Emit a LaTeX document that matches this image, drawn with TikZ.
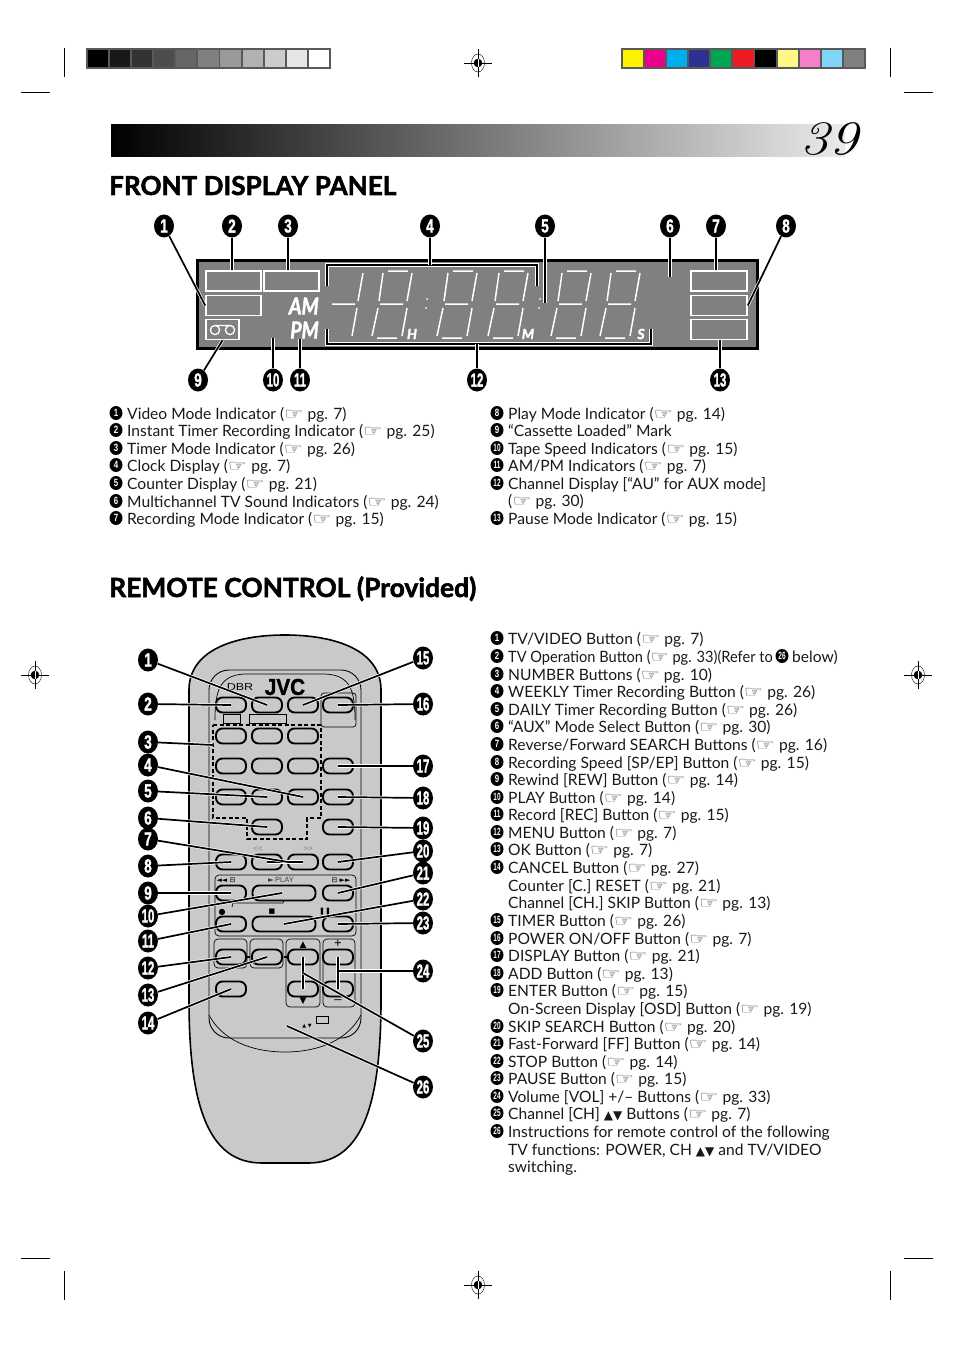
\documentclass[tikz,border=0pt]{standalone}
\usepackage{fontspec}
\setsansfont{Lato}
\newfontfamily\djv{DejaVu Sans}
\newfontfamily\lib{Liberation Sans}
\newfontfamily\hd[BoldFeatures={FakeBold=2},BoldItalicFeatures={FakeBold=2}]{Lato}
\newfontfamily\hvy[BoldFeatures={FakeBold=1.5}]{Liberation Sans}
\usetikzlibrary{shapes.geometric}
\newcommand{\hand}{{\djv\fontsize{16}{16}\selectfont\textcolor{black!75}{\scalebox{1.35}[1]{☞}}}}
\newcommand{\tri}{{\djv\fontsize{12}{12}\selectfont ▲▼}}
\tikzset{
 halo/.style={preaction={draw=white,line width=3.1pt},draw=black,line width=1.7pt},
 lab/.style={ellipse,fill=black,inner sep=0pt,minimum width=20pt,minimum height=23pt,text=white,font=\hvy\bfseries\fontsize{19}{19}\selectfont},
 blt/.style={ellipse,fill=black,inner sep=0pt,minimum width=13pt,minimum height=14pt,text=white,font=\lib\bfseries\fontsize{10.5}{11}\selectfont},
 itm/.style={anchor=west,inner sep=0pt,text height=13.5pt,text depth=1.5pt,font=\sffamily\fontsize{15.6}{18}\selectfont,text=black!90},
 disp/.style={draw=white,line width=1.6pt,inner sep=0pt,fill=none},
 seg/.style={draw=white,line width=1.5pt,line cap=butt},
 btn/.style={draw=black,line width=1.9pt,fill=remg,rounded corners=6.5pt,inner sep=0pt,minimum width=30pt,minimum height=15pt},
 wbtn/.style={btn,minimum width=63pt},
 thin/.style={draw=black,line width=0.7pt},
 tag/.style={inner sep=0pt,text=black,font=\lib\fontsize{8}{8}\selectfont},
 heading/.style={anchor=base west,inner sep=0pt,font=\hd\bfseries},
 crop/.style={draw=black,line width=0.6pt},
 lcdtxt/.style={text=white,inner sep=0pt,font=\hd\bfseries\itshape\fontsize{14}{14}\selectfont},
}
\definecolor{remg}{HTML}{C9C9C9}
\definecolor{lcdg}{HTML}{808080}
\newcommand{\biglab}[4]{\node[lab] (#1) at (#2,#3) {\ifnum#4>9 \scalebox{0.6}[1]{#4}\else\scalebox{0.72}[1]{#4}\fi};}
\newcommand{\lit}[5]{\node[blt] (#1) at (#2,#4) {\ifnum#5>9 \scalebox{0.62}[1]{#5}\else\scalebox{0.75}[1]{#5}\fi};}
\newcommand{\regm}[3]{%
 \node[inner sep=0pt,minimum size=0pt] (#1) at (#2,#3) {};
 \draw[crop] ([yshift=-14pt]#1.center) -- ([yshift=14pt]#1.center);
 \draw[crop] ([xshift=-14pt]#1.center) -- ([xshift=14pt]#1.center);
 \draw[thin,line width=0.4pt] (#1.center) ellipse [x radius=6.5pt,y radius=9pt];
 \fill[black] (#1.center) circle [radius=4.3pt];
 \draw[white,line width=0.6pt] ([yshift=-4.3pt]#1.center) -- ([yshift=4.3pt]#1.center);
}
\newcommand{\segdig}[1]{%
 \begin{scope}[xshift=#1pt]
  \draw[seg] (16,271)--(36,271) (40,273)--(35,301) (11,273)--(7,301) (8,304)--(31,304)
             (6,308)--(0,336) (35,308)--(30,336) (5,338)--(25,338);
 \end{scope}}
\begin{document}
\begin{tikzpicture}[x=1pt,y=-1pt]
\useasboundingbox (0,0) rectangle (954,1348);
\fill[white] (0,0) rectangle (954,1348);

% colour bars
\fill[black!65] (86,48) rectangle (331,69);
\foreach \i/\g in {0/100,1/90,2/80,3/70,4/60,5/50,6/40,7/30,8/20,9/10,10/0}{
  \fill[black!\g] ({87.5+\i*22.15},50) rectangle ({87.5+\i*22.15+20.3},67.5);}
\fill[black!65] (621,48) rectangle (866,69);
\foreach \i/\c in {0/FFF200,1/EC008C,2/00AEEF,3/2E3192,4/00A651,5/ED1C24,6/000000,7/FFF685,8/F580C8,9/80D4F7,10/808080}{
  \definecolor{cc}{HTML}{\c}
  \fill[cc] ({622.5+\i*22.15},50) rectangle ({622.5+\i*22.15+20.3},67.5);}

% registration and crop marks
\regm{rt}{478}{63}\regm{rb}{478}{1285}\regm{rl}{35}{675}\regm{rr}{918}{675}
\draw[crop] (64,48)--(64,77) (890,48)--(890,77) (21,92)--(50,92) (904,92)--(933,92);
\draw[crop] (64,1271)--(64,1300) (890,1271)--(890,1300) (21,1258)--(50,1258) (904,1258)--(933,1258);

% title band
\shade[left color=black,right color=black!8] (111,125) rectangle (845,157);
\node[inner sep=0pt,anchor=base,font=\itshape\fontsize{48}{48}\selectfont] (page) at (829,155) {\scalebox{1.2}[1]{39}};
\node[heading] (h1) at (109,195) {\resizebox{287pt}{!}{FRONT DISPLAY PANEL}};
\node[heading] (h2) at (109,597) {\resizebox{367pt}{!}{REMOTE CONTROL (Provided)}};

% display panel
\node[draw=black,line width=3pt,fill=lcdg,inner sep=0pt,minimum width=560pt,minimum height=88pt] (panel) at (477,304) {};
\node[disp,minimum width=55pt,minimum height=20pt] (r2) at (233.5,281) {};
\node[disp,minimum width=55pt,minimum height=20pt] (r3) at (291.5,281) {};
\node[disp,minimum width=55pt,minimum height=20pt] (r1) at (233.5,305.5) {};
\node[disp,minimum width=33pt,minimum height=20pt] (r9) at (222.5,329.5) {};
\node[disp,minimum width=56pt,minimum height=20pt] (r7) at (719,281) {};
\node[disp,minimum width=56pt,minimum height=20pt] (r8) at (719,305.5) {};
\node[disp,minimum width=56pt,minimum height=20pt] (r13) at (719,329.5) {};
\draw[white,line width=1.3pt] (215,330) circle [radius=4.6pt] (230,330) circle [radius=4.6pt] (215,325.4)--(230,325.4);
\node[lcdtxt,anchor=east,font=\hd\bfseries\itshape\fontsize{23}{23}\selectfont] (am) at (319,306) {\scalebox{0.85}[1]{AM}};
\node[lcdtxt,anchor=east,font=\hd\bfseries\itshape\fontsize{23}{23}\selectfont] (pm) at (319,330) {\scalebox{0.85}[1]{PM}};
\draw[seg] (332,304)--(355,304) (363,273)--(358,301) (357,308)--(352,336);
\segdig{372}\segdig{437}\segdig{488}\segdig{551}\segdig{600}
\fill[white] (427,299) circle [radius=1pt] (426,308) circle [radius=1pt] (540,299) circle [radius=1pt] (539,308) circle [radius=1pt];
\node[lcdtxt] (hh) at (412,334) {H};
\node[lcdtxt] (mm) at (528,334) {M};
\node[lcdtxt] (ss) at (641,334) {S};

% display labels
\biglab{a1}{164}{226}{1}\biglab{a2}{232}{226}{2}\biglab{a3}{288}{226}{3}\biglab{a4}{430}{226}{4}
\biglab{a5}{545}{226}{5}\biglab{a6}{670}{226}{6}\biglab{a7}{716}{226}{7}\biglab{a8}{786}{226}{8}
\biglab{a9}{198}{380}{9}\biglab{a10}{273}{380}{10}\biglab{a11}{300}{380}{11}\biglab{a12}{477}{380}{12}\biglab{a13}{720}{380}{13}

% display connectors
\coordinate (e5) at (545,303);\coordinate (e6) at (670,277);\coordinate (e10) at (273,338);
\coordinate (c4a) at (327,286);\coordinate (c4b) at (327,265);\coordinate (c4c) at (537,265);\coordinate (c4d) at (537,286);
\coordinate (c12a) at (327,329);\coordinate (c12b) at (327,344);\coordinate (c12c) at (651,344);\coordinate (c12d) at (651,329);
\coordinate (e12) at (477,344);
\draw[halo] (c4a)--(c4b)--(c4c)--(c4d);
\draw[halo] (c12a)--(c12b)--(c12c)--(c12d);
\draw[halo] (a1)--(r1.west);
\draw[halo] (a2)--(a2|-r2.north);
\draw[halo] (a3)--(a3|-r3.north);
\draw[halo] (a4)--(a4|-c4b);
\draw[halo] (a5)--(e5);
\draw[halo] (a6)--(e6);
\draw[halo] (a7)--(a7|-r7.north);
\draw[halo] (a8)--(r8.east);
\draw[halo] (a9)--(r9.south);
\draw[halo] (a10)--(e10);
\draw[halo] (a11)--(a11|-pm.south);
\draw[halo] (a12)--(e12);
\draw[halo] (a13)--(a13|-r13.south);

% front panel list
\lit{f1}{116}{127}{413}{1}\node[itm] (ft1) at (127,413) {Video Mode Indicator (\hand{} pg. 7)};
\lit{f2}{116}{127}{430}{2}\node[itm] (ft2) at (127,430) {Instant Timer Recording Indicator (\hand{} pg. 25)};
\lit{f3}{116}{127}{448}{3}\node[itm] (ft3) at (127,448) {Timer Mode Indicator (\hand{} pg. 26)};
\lit{f4}{116}{127}{465}{4}\node[itm] (ft4) at (127,465) {Clock Display (\hand{} pg. 7)};
\lit{f5}{116}{127}{483}{5}\node[itm] (ft5) at (127,483) {Counter Display (\hand{} pg. 21)};
\lit{f6}{116}{127}{501}{6}\node[itm] (ft6) at (127,501) {Multichannel TV Sound Indicators (\hand{} pg. 24)};
\lit{f7}{116}{127}{518}{7}\node[itm] (ft7) at (127,518) {Recording Mode Indicator (\hand{} pg. 15)};
\lit{f8}{497}{508}{413}{8}\node[itm] (ft8) at (508,413) {Play Mode Indicator (\hand{} pg. 14)};
\lit{f9}{497}{508}{430}{9}\node[itm] (ft9) at (508,430) {“Cassette Loaded” Mark};
\lit{f10}{497}{508}{448}{10}\node[itm] (ft10) at (508,448) {Tape Speed Indicators (\hand{} pg. 15)};
\lit{f11}{497}{508}{465}{11}\node[itm] (ft11) at (508,465) {AM/PM Indicators (\hand{} pg. 7)};
\lit{f12}{497}{508}{483}{12}\node[itm] (ft12) at (508,483) {Channel Display [“AU” for AUX mode]};
\node[itm] (ft12b) at (508,500) {(\hand{} pg. 30)};
\lit{f13}{497}{508}{518}{13}\node[itm] (ft13) at (508,518) {Pause Mode Indicator (\hand{} pg. 15)};

% remote list
\lit{g1}{497}{508}{638}{1}\node[itm] (gt1) at (508,638) {TV/VIDEO Button (\hand{} pg. 7)};
\lit{g2}{497}{508}{656}{2}\node[itm] (gt2) at (508,656) {\scalebox{0.935}[1]{TV Operation Button (\hand{} pg. 33)(Refer to}};
\node[blt] (g2r) at (782,656) {\scalebox{0.62}[1]{26}};
\node[itm] (gt2b) at (792,656) {below)};
\lit{g3}{497}{508}{674}{3}\node[itm] (gt3) at (508,674) {NUMBER Buttons (\hand{} pg. 10)};
\lit{g4}{497}{508}{691}{4}\node[itm] (gt4) at (508,691) {WEEKLY Timer Recording Button (\hand{} pg. 26)};
\lit{g5}{497}{508}{709}{5}\node[itm] (gt5) at (508,709) {DAILY Timer Recording Button (\hand{} pg. 26)};
\lit{g6}{497}{508}{726}{6}\node[itm] (gt6) at (508,726) {“AUX” Mode Select Button (\hand{} pg. 30)};
\lit{g7}{497}{508}{744}{7}\node[itm] (gt7) at (508,744) {Reverse/Forward SEARCH Buttons (\hand{} pg. 16)};
\lit{g8}{497}{508}{762}{8}\node[itm] (gt8) at (508,762) {Recording Speed [SP/EP] Button (\hand{} pg. 15)};
\lit{g9}{497}{508}{779}{9}\node[itm] (gt9) at (508,779) {Rewind [REW] Button (\hand{} pg. 14)};
\lit{g10}{497}{508}{797}{10}\node[itm] (gt10) at (508,797) {PLAY Button (\hand{} pg. 14)};
\lit{g11}{497}{508}{814}{11}\node[itm] (gt11) at (508,814) {Record [REC] Button (\hand{} pg. 15)};
\lit{g12}{497}{508}{832}{12}\node[itm] (gt12) at (508,832) {MENU Button (\hand{} pg. 7)};
\lit{g13}{497}{508}{849}{13}\node[itm] (gt13) at (508,849) {OK Button (\hand{} pg. 7)};
\lit{g14}{497}{508}{867}{14}\node[itm] (gt14) at (508,867) {CANCEL Button (\hand{} pg. 27)};
\node[itm] (gt14b) at (508,885) {Counter [C.] RESET (\hand{} pg. 21)};
\node[itm] (gt14c) at (508,902) {Channel [CH.] SKIP Button (\hand{} pg. 13)};
\lit{g15}{497}{508}{920}{15}\node[itm] (gt15) at (508,920) {TIMER Button (\hand{} pg. 26)};
\lit{g16}{497}{508}{938}{16}\node[itm] (gt16) at (508,938) {POWER ON/OFF Button (\hand{} pg. 7)};
\lit{g17}{497}{508}{955}{17}\node[itm] (gt17) at (508,955) {DISPLAY Button (\hand{} pg. 21)};
\lit{g18}{497}{508}{973}{18}\node[itm] (gt18) at (508,973) {ADD Button (\hand{} pg. 13)};
\lit{g19}{497}{508}{990}{19}\node[itm] (gt19) at (508,990) {ENTER Button (\hand{} pg. 15)};
\node[itm] (gt19b) at (508,1008) {On-Screen Display [OSD] Button (\hand{} pg. 19)};
\lit{g20}{497}{508}{1026}{20}\node[itm] (gt20) at (508,1026) {SKIP SEARCH Button (\hand{} pg. 20)};
\lit{g21}{497}{508}{1043}{21}\node[itm] (gt21) at (508,1043) {Fast-Forward [FF] Button (\hand{} pg. 14)};
\lit{g22}{497}{508}{1061}{22}\node[itm] (gt22) at (508,1061) {STOP Button (\hand{} pg. 14)};
\lit{g23}{497}{508}{1078}{23}\node[itm] (gt23) at (508,1078) {PAUSE Button (\hand{} pg. 15)};
\lit{g24}{497}{508}{1096}{24}\node[itm] (gt24) at (508,1096) {Volume [VOL] +/– Buttons (\hand{} pg. 33)};
\lit{g25}{497}{508}{1113}{25}\node[itm] (gt25) at (508,1113) {Channel [CH] \tri{} Buttons (\hand{} pg. 7)};
\lit{g26}{497}{508}{1131}{26}\node[itm] (gt26) at (508,1131) {Instructions for remote control of the following};
\node[itm] (gt26b) at (508,1149) {TV functions: POWER, CH \tri{} and TV/VIDEO};
\node[itm] (gt26c) at (508,1166) {switching.};

% remote body
\draw[draw=black,line width=1.6pt,fill=remg]
  (189,690) .. controls (189,650) and (235,635) .. (285,635)
  .. controls (335,635) and (381,650) .. (381,690) -- (381,1000)
  .. controls (381,1110) and (360,1163) .. (308,1163) -- (262,1163)
  .. controls (210,1163) and (189,1110) .. (189,1000) -- cycle;
\draw[thin,line width=0.9pt,rounded corners=20pt] (209,1000) -- (209,670) -- (361,670) -- (361,1000) -- (361,1038) -- (209,1038) -- cycle;
\draw[thin] (215,720) .. controls (215,690) and (220,675) .. (245,674) -- (325,674) .. controls (350,675) and (355,690) .. (355,720);
\draw[thin] (209,1015) .. controls (225,1045) and (260,1052) .. (285,1052) .. controls (310,1052) and (345,1045) .. (361,1015);

% remote panels
\draw[thin,rounded corners=3pt] (321,727) -- (321,693) -- (356,693) -- (356,727) -- cycle;
\draw[thin,rounded corners=4pt] (215,875) rectangle (356,936);
\draw[thin,rounded corners=4pt] (214,939) rectangle (247,968);
\draw[thin,rounded corners=4pt] (250,939) rectangle (283,968);
\draw[thin,rounded corners=4pt] (286,939) rectangle (320,1007);
\draw[thin,rounded corners=4pt] (323,939) rectangle (355,1007);
\draw[draw=black,line width=0.9pt,fill=remg] (223,714) rectangle (240,723) (249,714) rectangle (286,723);
\draw[draw=black,line width=1.5pt,dash pattern=on 4pt off 2.5pt] (213,725) -- (321,725) -- (321,818) -- (307,818) -- (307,839) -- (247,839) -- (247,818) -- (213,818) -- cycle;
\draw[thin] (232,907) -- (233,903) -- (283,903) -- (284,900);
\draw[black,line width=1.1pt] (247,957)--(250,957) (284,957)--(287,957);

% buttons
\foreach \n/\x in {ba/231,bb/267,bc/303,bd/338}{
 \node[btn] (\n1) at (\x,705) {};
 \node[btn] (\n3) at (\x,766) {};
 \node[btn] (\n4) at (\x,797) {};
 \node[btn] (\n6) at (\x,862) {};
 \node[btn] (\n9) at (\x,957) {};}
\foreach \n/\x in {ba/231,bb/267,bc/303}{\node[btn] (\n2) at (\x,736) {};}
\foreach \n/\x in {bb/267,bd/338}{\node[btn] (\n5) at (\x,827) {};}
\foreach \n/\x in {ba/231,bc/303,bd/338}{\node[btn] (\n10) at (\x,989) {};}
\foreach \n/\x in {ba/231,bd/338}{\node[btn] (\n7) at (\x,893) {}; \node[btn] (\n8) at (\x,924) {};}
\node[wbtn] (bw7) at (284,893) {};
\node[wbtn] (bw8) at (284,924) {};

% remote marks
\node[inner sep=0pt,font=\hvy\bfseries\fontsize{23}{23}\selectfont] (jvc) at (285,687) {\scalebox{0.9}[1]{JVC}};
\node[inner sep=0pt,font=\lib\fontsize{10}{10}\selectfont] (dbr) at (240,687) {\scalebox{1.25}[1]{DBR}};
\node[tag,text=black!50] (t1) at (258,849) {<<};
\node[tag,text=black!50] (t2) at (308,849) {>>};
\node[tag,font=\djv\fontsize{7}{7}\selectfont] (t3) at (226,880) {◄◄ ⊟};
\node[tag,text=black!75,font=\lib\fontsize{7.5}{8}\selectfont] (t4) at (281,880) {{\djv►}\,PLAY};
\node[tag,font=\djv\fontsize{7}{7}\selectfont] (t5) at (341,880) {⊟ ►►};
\node[tag,font=\djv\fontsize{8}{8}\selectfont] (t6) at (222,912) {●};
\node[tag,font=\djv\fontsize{7}{7}\selectfont] (t7) at (272,912) {■};
\node[tag,font=\djv\fontsize{7}{7}\selectfont] (t8) at (325,912) {❚❚};
\node[tag,font=\djv\fontsize{9}{9}\selectfont] (t9) at (303,945) {▲};
\node[tag,font=\djv\fontsize{9}{9}\selectfont] (t10) at (303,1001) {▼};
\node[tag,font=\lib\fontsize{13}{13}\selectfont] (t11) at (338,944) {+};
\node[tag,font=\lib\fontsize{13}{13}\selectfont] (t12) at (338,1002) {–};
\node[tag,font=\djv\fontsize{5}{5}\selectfont] (t13) at (307,1026) {▲ ▼};
\node[draw=black,line width=0.8pt,inner sep=0pt,minimum width=12pt,minimum height=6.5pt] (t14) at (322,1020) {};

% remote labels
\biglab{l1}{148}{660}{1}\biglab{l2}{148}{704}{2}\biglab{l3}{148}{742}{3}\biglab{l4}{148}{765}{4}
\biglab{l5}{148}{791}{5}\biglab{l6}{148}{818}{6}\biglab{l7}{148}{839}{7}\biglab{l8}{148}{866}{8}
\biglab{l9}{148}{893}{9}\biglab{l10}{148}{916}{10}\biglab{l11}{148}{941}{11}\biglab{l12}{148}{968}{12}
\biglab{l13}{148}{995}{13}\biglab{l14}{148}{1023}{14}
\biglab{l15}{423}{658}{15}\biglab{l16}{423}{704}{16}\biglab{l17}{423}{766}{17}\biglab{l18}{423}{798}{18}
\biglab{l19}{423}{828}{19}\biglab{l20}{423}{851}{20}\biglab{l21}{423}{873}{21}\biglab{l22}{423}{899}{22}
\biglab{l23}{423}{923}{23}\biglab{l24}{423}{971}{24}\biglab{l25}{423}{1041}{25}\biglab{l26}{423}{1087}{26}

% remote connectors
\coordinate (e3) at (213,745);\coordinate (e24) at (339,971);\coordinate (e25) at (303,973);\coordinate (e26) at (287,1026);
\coordinate (e7) at (288,862);\coordinate (e10r) at (282,893);\coordinate (e22) at (284,924);
\draw[halo] (l1)--(bb1.center);
\draw[halo] (l2)--(ba1.center);
\draw[halo] (l3)--(e3);
\draw[halo] (l4)--(bc4.center);
\draw[halo] (l5)--(bb4.center);
\draw[halo] (l6)--(bb5.center);
\draw[halo] (bb6.center)--(bc6.center);
\draw[halo] (l7)--(e7);
\draw[halo] (l8)--(ba6.center);
\draw[halo] (l9)--(ba7.center);
\draw[halo] (l10)--(e10r);
\draw[halo] (l11)--(ba8.center);
\draw[halo] (l12)--(ba9.center);
\draw[halo] (l13)--(bb9.center);
\draw[halo] (l14)--(ba10.center);
\draw[halo] (l15)--(bc1.center);
\draw[halo] (l16)--(bd1.center);
\draw[halo] (l17)--(bd3.center);
\draw[halo] (l18)--(bd4.center);
\draw[halo] (l19)--(bd5.center);
\draw[halo] (l20)--(bd6.center);
\draw[halo] (l21)--(bd7.center);
\draw[halo] (l22)--(e22);
\draw[halo] (l23)--(bd8.center);
\draw[halo] (bc9.center)--(bc10.center);
\draw[halo] (bd9.center)--(bd10.center);
\draw[halo] (l24)--(e24);
\draw[halo] (l25)--(e25);
\draw[halo] (l26)--(e26);
\end{tikzpicture}
\end{document}
